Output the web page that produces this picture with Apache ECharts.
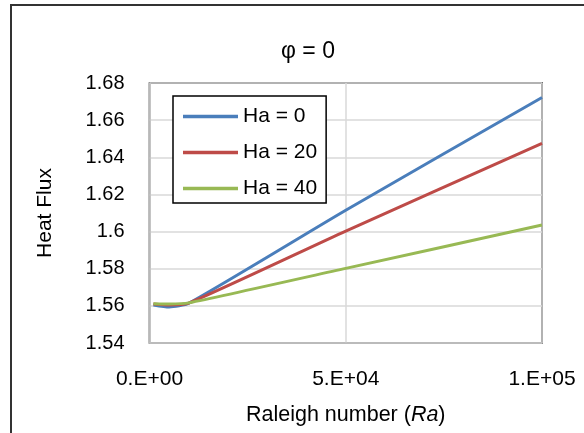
<!DOCTYPE html>
<html>
<head>
<meta charset="utf-8">
<script src="https://cdn.jsdelivr.net/npm/echarts@6/dist/echarts.min.js"></script>
<style>
  html, body { margin: 0; padding: 0; background: #fff; }
  #chart { width: 584px; height: 433px; }
</style>
</head>
<body>
<div id="chart"></div>
<script>
// Raleigh number sample points
var ra = [1000, 5000, 10000, 50000, 100000];
// heat flux per Hartmann number
var ha0 = [1.5605, 1.5594, 1.5614, 1.6115, 1.6722];
var ha20 = [1.5610, 1.5605, 1.5615, 1.6003, 1.6475];
var ha40 = [1.5612, 1.5610, 1.5616, 1.5802, 1.6035];
var seriesNames = ['Ha = 0', 'Ha = 20', 'Ha = 40'];
var xTickLabels = ['0.E+00', '5.E+04', '1.E+05'];

var font = 'Liberation Sans, Arial, sans-serif';
var colors = ['#4a7ebb', '#be4b48', '#98b954'];

function pairs(xs, ys) {
	var out = [];
	for (var i = 0; i < xs.length; i++) {
		out.push([xs[i], ys[i]]);
	}
	return out;
}

var myChart = echarts.init(document.getElementById('chart'));
var allSeries = [ha0, ha20, ha40].map(function(ys, i) {
	return {
		name: seriesNames[i],
		type: 'line',
		symbol: 'none',
		smooth: 0.2,
		data: pairs(ra, ys),
		lineStyle: { color: colors[i], width: 3 },
		itemStyle: { color: colors[i] }
	};
});

var option = {
	animation: false,
	textStyle: { fontFamily: font },
	graphic: [{
		type: 'rect',
		shape: { x: 11, y: 5, width: 600, height: 460 },
		style: { fill: 'none', stroke: '#333', lineWidth: 2 },
		silent: true
	}],
	title: {
		text: 'φ = 0',
		left: 303,
		top: 35,
		textAlign: 'center',
		textStyle: { fontSize: 23, fontWeight: 'normal', color: '#000', fontFamily: font }
	},
	legend: {
		data: seriesNames,
		orient: 'vertical',
		icon: 'rect',
		left: 173,
		top: 96,
		itemWidth: 55,
		itemHeight: 3.5,
		itemGap: 15,
		padding: [10, 9, 4, 10],
		borderColor: '#000',
		borderWidth: 1.5,
		backgroundColor: '#fff',
		textStyle: { fontSize: 21, lineHeight: 21, color: '#000', fontFamily: font }
	},
	grid: {
		left: 149.5,
		right: 42,
		top: 83,
		bottom: 90,
		show: true,
		borderColor: '#000',
		borderWidth: 1.5,
		backgroundColor: 'transparent'
	},
	xAxis: {
		type: 'value',
		min: 0,
		max: 100000,
		interval: 50000,
		name: '{n|Raleigh number (}{i|Ra}{n|)}',
		nameLocation: 'middle',
		nameGap: 61,
		nameTextStyle: {
			rich: {
				n: { fontSize: 21.5, color: '#000', fontFamily: font },
				i: { fontSize: 21.5, color: '#000', fontStyle: 'italic', fontFamily: font }
			}
		},
		axisLine: { show: true, lineStyle: { color: '#bfbfbf', width: 1.5 } },
		axisTick: { show: false },
		splitLine: { show: true, lineStyle: { color: '#d9d9d9', width: 1.5 } },
		axisLabel: {
			margin: 26,
			fontSize: 21,
			color: '#000',
			formatter: function(v) {
				return xTickLabels[Math.round(v / 50000)];
			}
		}
	},
	yAxis: {
		type: 'value',
		min: 1.54,
		max: 1.68,
		interval: 0.02,
		name: 'Heat Flux',
		nameLocation: 'middle',
		nameGap: 94,
		nameTextStyle: { fontSize: 21, color: '#000', fontFamily: font },
		axisLine: { show: true, lineStyle: { color: '#bfbfbf', width: 1.5 } },
		axisTick: { show: false },
		splitLine: { show: true, lineStyle: { color: '#d9d9d9', width: 1.5 } },
		axisLabel: {
			margin: 25,
			fontSize: 20,
			color: '#000',
			formatter: function(v) {
				return String(+v.toFixed(2));
			}
		}
	},
	series: allSeries
};
myChart.setOption(option);
</script>
</body>
</html>
